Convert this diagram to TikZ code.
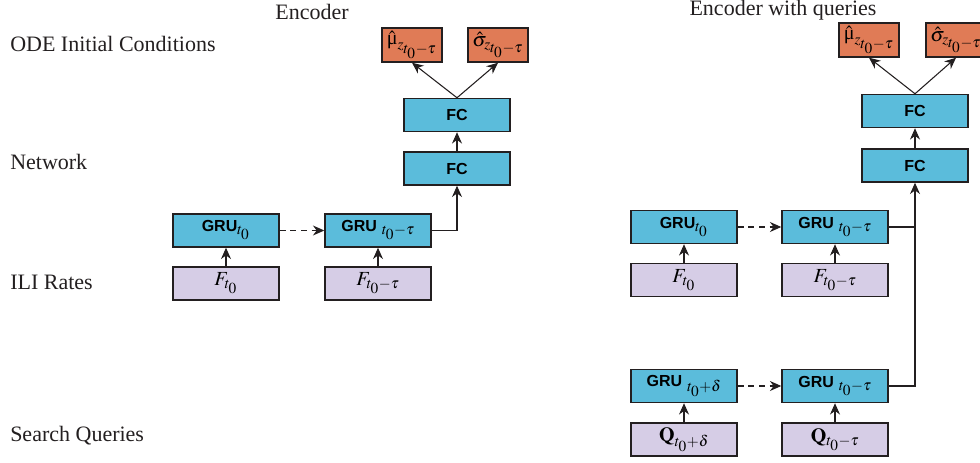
\documentclass[tikz,border=0pt]{standalone}
\usepackage{mathptmx}
\usepackage{fontspec}
\setmainfont{Liberation Serif}
\setsansfont{Liberation Sans}
\usetikzlibrary{arrows.meta}
\DeclareMathSizes{15}{15}{11.5}{9}
\definecolor{grublue}{RGB}{91,188,219}
\definecolor{outorange}{RGB}{224,123,86}
\definecolor{inlilac}{RGB}{214,205,230}
\definecolor{edgegray}{RGB}{35,31,32}
\tikzset{
  box/.style={draw=edgegray,line width=1.1pt,minimum width=79.5pt,minimum height=24.75pt,
    inner sep=0pt,font=\fontsize{15}{18}\selectfont},
  layer/.style={box,fill=grublue},
  input/.style={box,fill=inlilac},
  output/.style={box,fill=outorange,minimum width=45pt,minimum height=25.5pt},
  arr/.style={-{Stealth[length=8.5pt,width=7.5pt]},line width=0.8pt,draw=edgegray},
  lbl/.style={font=\fontsize{16.5}{20}\selectfont,text=edgegray,inner sep=0pt},
}
\newcommand{\grutxt}{{\fontsize{12}{14}\sffamily\bfseries GRU}}
\newcommand{\fctxt}{{\fontsize{12}{14}\sffamily\bfseries FC}}
\newcommand{\tzero}{t_{\scriptstyle 0}}
\newcommand{\mulbl}{$\hat{\hbox{μ}}_{z_{\scriptstyle\tzero-\tau}}$}
\newcommand{\siglbl}{$\hat{\sigma}_{z_{\scriptstyle\tzero-\tau}}$}
\begin{document}
\begin{tikzpicture}[x=0.75pt,y=-0.75pt]
    \useasboundingbox (0,0) rectangle (980,463);
    \foreach \txt/\yy [count=\i] in {ODE Initial Conditions/44, Network/162, ILI Rates/282, Search Queries/436}
        \node[lbl,anchor=west] (row\i) at (10,\yy) {\txt};
    \node[lbl] (enc) at (312,12) {Encoder};
    \node[lbl] (encq) at (783,10) {Encoder with queries};

    \node[layer] (g1) at (226,230.5) {\grutxt$_{\tzero}$};
    \node[layer] (g2) at (378,230.5) {\grutxt\ $_{\tzero-\tau}$};
    \node[input] (f1) at (226,283.5) {$F_{\tzero}$};
    \node[input] (f2) at (378,283.5) {$F_{\tzero-\tau}$};
    \node[layer] (fc1) at (457,168.5) {\fctxt};
    \node[layer] (fc2) at (457,115) {\fctxt};
    \node[output] (mu) at (412,45) {\mulbl};
    \node[output] (sig) at (498,45) {\siglbl};
    \draw[arr] (f1) -- (g1);
    \draw[arr] (f2) -- (g2);
    \draw[arr,dash pattern=on 4.5pt off 3.5pt] (g1) -- (g2);
    \draw[arr] (g2.east) -| (fc1.south);
    \draw[arr] (fc1) -- (fc2);
    \draw[arr] (fc2.north) -- (mu.south);
    \draw[arr] (fc2.north) -- (sig.south);

    \node[layer] (qg1) at (684,227) {\grutxt$_{\tzero}$};
    \node[layer] (qg2) at (835,227) {\grutxt\ $_{\tzero-\tau}$};
    \node[input] (qf1) at (684,280) {$F_{\tzero}$};
    \node[input] (qf2) at (835,280) {$F_{\tzero-\tau}$};
    \node[layer] (qh1) at (684,386) {\grutxt\ $_{\tzero+\delta}$};
    \node[layer] (qh2) at (835,386) {\grutxt\ $_{\tzero-\tau}$};
    \node[input] (qq1) at (684,439.5) {$\mathbf{Q}_{\tzero+\delta}$};
    \node[input] (qq2) at (835,439.5) {$\mathbf{Q}_{\tzero-\tau}$};
    \node[layer] (qfc1) at (915,165.5) {\fctxt};
    \node[layer] (qfc2) at (915,111) {\fctxt};
    \node[output] (qmu) at (869,40) {\mulbl};
    \node[output] (qsig) at (956,40) {\siglbl};
    \draw[arr] (qf1) -- (qg1);
    \draw[arr] (qf2) -- (qg2);
    \draw[arr] (qq1) -- (qh1);
    \draw[arr] (qq2) -- (qh2);
    \draw[arr,dash pattern=on 4.5pt off 3.5pt] (qg1) -- (qg2);
    \draw[arr,dash pattern=on 4.5pt off 3.5pt] (qh1) -- (qh2);
    \draw[line width=0.8pt,draw=edgegray] (qg2.east) -- (qfc1.south |- qg2.east);
    \draw[arr] (qh2.east) -| (qfc1.south);
    \draw[arr] (qfc1) -- (qfc2);
    \draw[arr] (qfc2.north) -- (qmu.south);
    \draw[arr] (qfc2.north) -- (qsig.south);
\end{tikzpicture}
\end{document}
